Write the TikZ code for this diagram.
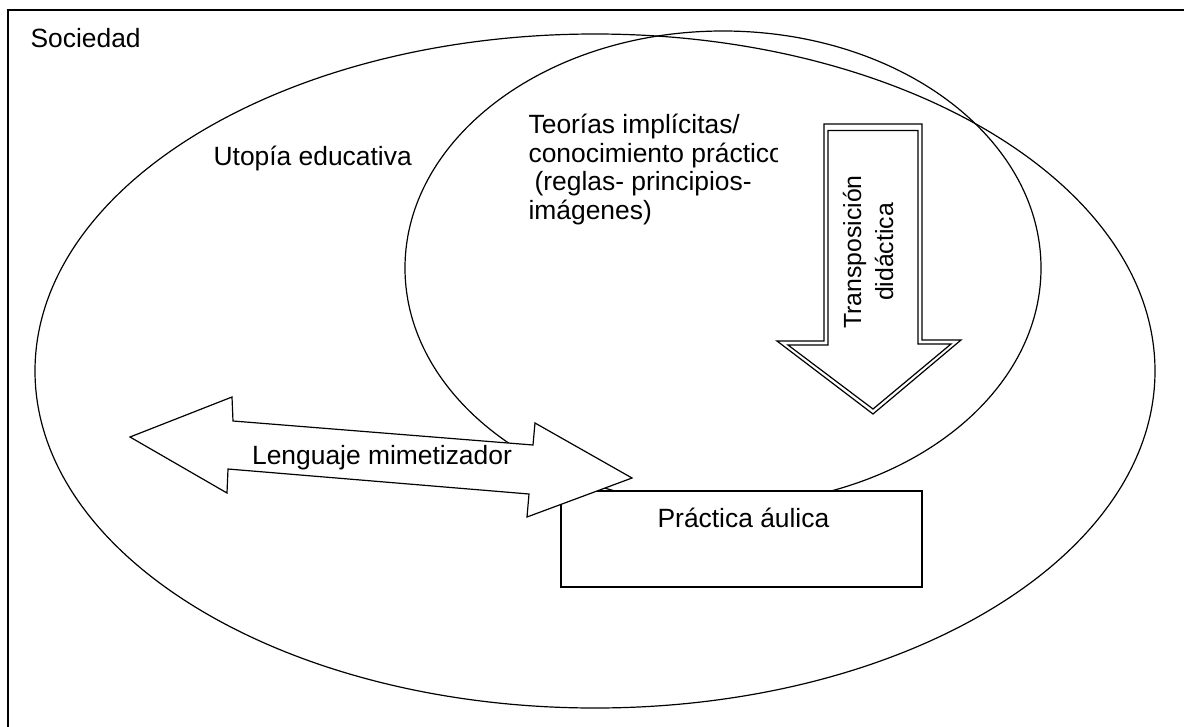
\documentclass[tikz,border=0pt]{standalone}
\usepackage{fontspec}
\setmainfont{Liberation Sans}
\begin{document}
\begin{tikzpicture}[x=1pt,y=-1pt,
  line width=1.2pt, line join=miter,
  lbl/.style={inner sep=0pt, font=\fontsize{26.4}{28.5}\selectfont},
  whiteshape/.style={draw=black, fill=white}]
\useasboundingbox (0,0) rectangle (1184,726);
\begin{scope}
\clip (0,0) rectangle (1184,726);
% outer frame (Sociedad)
\draw[line width=1.7pt] (8,10) rectangle (1200,745);
% big ellipse (Utopia educativa)
\draw (595,371) ellipse [x radius=560pt, y radius=337pt];
% small ellipse (Teorias implicitas)
\draw (723,268) ellipse [x radius=318pt, y radius=237pt];
\end{scope}
% texts
\node[lbl, anchor=base west] (soc) at (30,47) {Sociedad};
\node[lbl, anchor=base west] (uto) at (213,165) {Utopía educativa};
\begin{scope}
\clip (520,95) rectangle (777,240);
\node[lbl, anchor=north west, align=left] (teo) at (528,113.5)
  {Teorías implícitas/\\conocimiento práctico\\\hspace*{6pt}(reglas- principios-\\imágenes)};
\end{scope}
% box Practica aulica
\draw[whiteshape] (561,491) rectangle (922,587);
\node[lbl, anchor=base west] (pra) at (657,527) {Práctica áulica};
% double arrow Lenguaje mimetizador
\draw[whiteshape] (130,437) -- (232,397) -- (233,421) -- (533,445) -- (535,423)
  -- (632,478) -- (527,517) -- (529,494) -- (228,469) -- (227,493) -- cycle;
\node[lbl, anchor=base] (len) at (382,464) {Lenguaje mimetizador};
% down arrow Transposicion didactica
\draw[whiteshape] (824,124) -- (922,124) -- (922,340) -- (961,340) -- (873,414)
  -- (777,341) -- (824,341) -- cycle;
\draw (828,130.5) -- (918,130.5) -- (918,344) -- (951,344) -- (873,409)
  -- (788,345) -- (828,345) -- cycle;
\node[inner sep=0pt, rotate=90, align=center,
  font=\fontsize{24.8}{32}\selectfont] (tra) at (868,252)
  {Transposición\\didáctica};
\end{tikzpicture}
\end{document}
